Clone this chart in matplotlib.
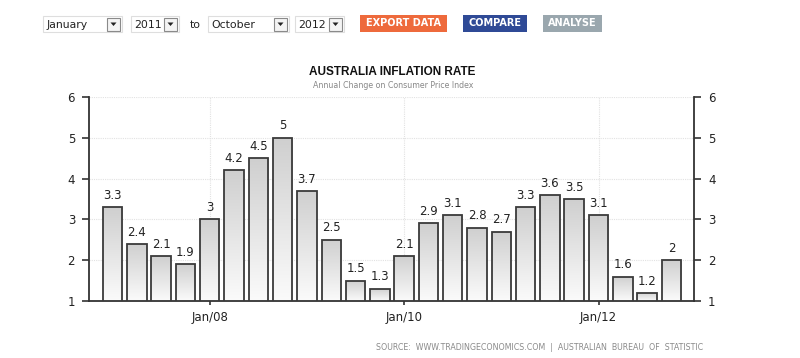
import numpy as np
import matplotlib.pyplot as plt
from matplotlib.patches import Rectangle, Polygon
from matplotlib.colors import LinearSegmentedColormap

# quarterly annual CPI change, Mar 2007 .. Dec 2012
values = [3.3, 2.4, 2.1, 1.9, 3.0, 4.2, 4.5, 5.0, 3.7, 2.5, 1.5, 1.3,
          2.1, 2.9, 3.1, 2.8, 2.7, 3.3, 3.6, 3.5, 3.1, 1.6, 1.2, 2.0]
tick_pos = [4, 12, 20]
tick_labels = ["Jan/08", "Jan/10", "Jan/12"]
y_ticks = [1, 2, 3, 4, 5, 6]

W, H = 800, 358
fig = plt.figure(figsize=(W / 100, H / 100), dpi=100)
plt.rcParams['font.family'] = ['DejaVu Sans']


def fx(x):
    return x / W


def fy(y):
    return 1 - y / H


def box(x0, y0, x1, y1, fc, ec, lw=0.8):
    fig.patches.append(Rectangle((fx(x0), fy(y1)), fx(x1 - x0), (y1 - y0) / H,
                                 transform=fig.transFigure, facecolor=fc,
                                 edgecolor=ec, linewidth=lw))


def dropdown(x0, x1, text):
    box(x0, 16, x1, 32, "white", "#dedede")
    fig.text(fx(x0 + 3), fy(24.5), text, fontsize=7.8, color="#222222",
             va="center", ha="left")
    ax0 = x1 - 16
    box(ax0 + 1, 17.5, x1 - 2, 30.5, "#f4f4f4", "#8a8a8a")
    cx = (ax0 + x1 - 1) / 2
    fig.patches.append(Polygon([(fx(cx - 3), fy(22.5)), (fx(cx + 3), fy(22.5)),
                                (fx(cx), fy(26))], closed=True,
                               transform=fig.transFigure, facecolor="#222222",
                               edgecolor="none"))


dropdown(43, 122, "January")
dropdown(131, 179, "2011")
fig.text(fx(190), fy(24.5), "to", fontsize=7.8, color="#222222", va="center")
dropdown(208, 289, "October")
dropdown(295, 344, "2012")


def button(x0, x1, text, fc):
    box(x0, 15, x1, 32, fc, "none")
    fig.text(fx((x0 + x1) / 2), fy(23.5), text, fontsize=7, color="white",
             fontweight="bold", ha="center", va="center")


button(360, 447, "EXPORT DATA", "#ee6a3c")
button(463, 527, "COMPARE", "#2f4a96")
button(543, 602, "ANALYSE", "#9aa7ae")

ax = fig.add_axes([89 / W, 57 / H, (694 - 89) / W, (301 - 97) / H])
x = np.arange(len(values))
bars = ax.bar(x, values, width=0.8, bottom=0, color="none",
              edgecolor="#3a3a3a", linewidth=1.3, zorder=3)

bar_cmap = LinearSegmentedColormap.from_list("bar", ["#fbfbfb", "#cfcfcf"])
grad = np.linspace(0, 1, 256).reshape(-1, 1)
for b, v in zip(bars, values):
    x0 = b.get_x()
    im = ax.imshow(grad, cmap=bar_cmap, vmin=0, vmax=1, aspect="auto",
                   extent=[x0, x0 + b.get_width(), 1, v], origin="lower",
                   zorder=2)
    im.set_clip_path(b)
    ax.text(x0 + b.get_width() / 2, v + 0.13, f"{v:g}", ha="center",
            va="bottom", fontsize=8.5, color="#222222", zorder=4)

ax.set_xlim(-0.97, len(values) - 0.07)
ax.set_ylim(1, 6)
ax.set_yticks(y_ticks)
ax.set_xticks(tick_pos)
ax.set_xticklabels(tick_labels)
ax.grid(True, color="#e2e2e2", linestyle=(0, (1, 1)), linewidth=0.8, zorder=0)
ax.set_axisbelow(True)
for s in ["left", "right", "bottom"]:
    ax.spines[s].set_color("#333333")
    ax.spines[s].set_linewidth(1.3)
ax.spines["top"].set_visible(False)
ax.tick_params(axis="both", colors="#333333", labelcolor="#222222",
               labelsize=8.5, length=5, width=1.2)
ax.tick_params(axis="y", labelleft=True, labelright=True, left=True,
               right=True, pad=5)
ax.tick_params(axis="x", length=3, pad=4)

fig.text(fx(392), fy(72), "AUSTRALIA INFLATION RATE", fontsize=8.5,
         fontweight="bold", ha="center", va="center", color="#111111",
         family=["Liberation Sans", "DejaVu Sans"])
fig.text(fx(393), fy(86), "Annual Change on Consumer Price Index",
         fontsize=5.7, ha="center", va="center", color="#888888")
fig.text(fx(703), fy(347),
         "SOURCE:  WWW.TRADINGECONOMICS.COM  |  AUSTRALIAN  BUREAU  OF  STATISTIC",
         fontsize=5.7, ha="right", va="center", color="#8a8a8a")

fig.savefig("out.png", dpi=100)
